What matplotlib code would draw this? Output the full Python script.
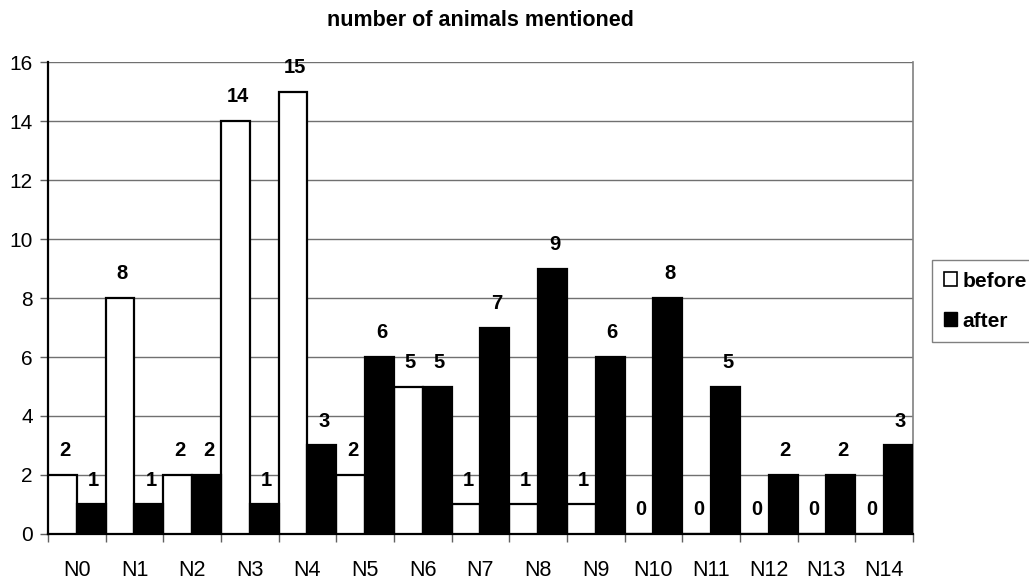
import numpy as np
import matplotlib
matplotlib.use('Agg')
import matplotlib.pyplot as plt
from matplotlib.patches import Patch

plt.rcParams['font.family'] = ['Liberation Sans', 'DejaVu Sans']

categories = ['N0', 'N1', 'N2', 'N3', 'N4', 'N5', 'N6', 'N7', 'N8', 'N9',
              'N10', 'N11', 'N12', 'N13', 'N14']
before = [2, 8, 2, 14, 15, 2, 5, 1, 1, 1, 0, 0, 0, 0, 0]
after = [1, 1, 2, 1, 3, 6, 5, 7, 9, 6, 8, 5, 2, 2, 3]
y_ticks = [0, 2, 4, 6, 8, 10, 12, 14, 16]

fig = plt.figure(figsize=(10.29, 5.81), dpi=100)
ax = fig.add_axes([0.0466, 0.081, 0.8405, 0.812])

x = np.arange(len(categories))
w = 0.5
ax.bar(x - w / 2, before, w, color='white', edgecolor='black', linewidth=1.6,
       zorder=3, label='before')
ax.bar(x + w / 2, after, w, color='black', edgecolor='black', linewidth=1.6,
       zorder=3, label='after')

# value labels above each bar
for xi, b, a in zip(x, before, after):
    for pos, val in ((xi - w / 2, b), (xi + w / 2, a)):
        ax.annotate(str(val), (pos, val), xytext=(1.5, 17.5), textcoords='offset points',
                    ha='center', va='center', fontsize=14.5, fontweight='bold', zorder=5)

ax.set_xlim(-0.5, len(categories) - 0.5)
ax.set_ylim(0, 16)
ax.set_yticks(y_ticks)
ax.set_yticklabels([str(t) for t in y_ticks], fontsize=15)
ax.yaxis.grid(True, color='#707070', linewidth=1.0, zorder=0)

# category labels centred, tick marks on group boundaries
ax.set_xticks(x)
ax.set_xticklabels(categories, fontsize=15.5)
ax.tick_params(axis='x', length=0, pad=19)
ax.set_xticks(np.arange(len(categories) + 1) - 0.5, minor=True)
ax.tick_params(axis='x', which='minor', length=6, width=1.0, color='#606060')
ax.tick_params(axis='y', length=6, width=1.0, color='#606060', pad=5)

ax.spines['left'].set_linewidth(1.6)
ax.spines['bottom'].set_linewidth(1.6)
ax.spines['top'].set_visible(False)
ax.spines['right'].set_color('#808080')
ax.spines['right'].set_linewidth(1.2)

ax.set_title('number of animals mentioned', fontsize=15.5, fontweight='bold', pad=26)

handles = [Patch(facecolor='white', edgecolor='black', linewidth=1.2, label='before'),
           Patch(facecolor='black', edgecolor='black', label='after')]
leg = fig.legend(handles=handles, loc='upper left', bbox_to_anchor=(0.906, 0.552),
                 frameon=True, fancybox=False, edgecolor='#606060',
                 handlelength=0.65, handleheight=0.65, handletextpad=0.25,
                 borderpad=0.55, borderaxespad=0, labelspacing=1.0,
                 prop={'weight': 'bold', 'size': 15})
leg.get_frame().set_linewidth(1.0)

fig.savefig('out.png', dpi=100)
